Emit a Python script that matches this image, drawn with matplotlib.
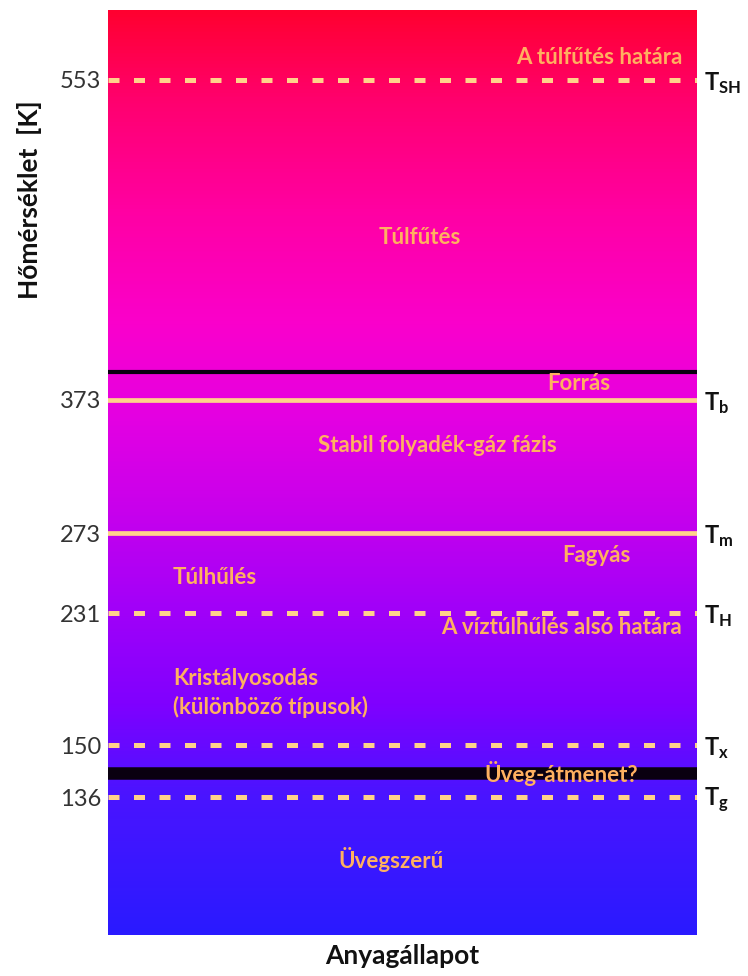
import numpy as np
import matplotlib
matplotlib.use("Agg")
import matplotlib.pyplot as plt
from matplotlib.colors import LinearSegmentedColormap

plt.rcParams['font.family'] = ['Lato', 'DejaVu Sans']
plt.rcParams['mathtext.fontset'] = 'custom'
plt.rcParams['mathtext.rm'] = 'Lato'
plt.rcParams['mathtext.bf'] = 'Lato:bold'

# ---- data ----
levels = [553, 373, 273, 231, 150, 136]            # temperatures [K]
level_pos = [855, 535, 402, 322, 190, 138]          # schematic (non-linear) axis positions
level_dashed = [True, False, False, True, True, True]
level_symbols = ['SH', 'b', 'm', 'H', 'x', 'g']
boundary_pos = [563, 162]                           # black boundary lines
boundary_width = [3.0, 9.0]

region_labels = ['A túlfűtés határa', 'Túlfűtés', 'Forrás', 'Stabil folyadék-gáz fázis',
                 'Fagyás', 'Túlhűlés', 'A víztúlhűlés alsó határa',
                 'Kristályosodás\n(különböző típusok)', 'Üveg-átmenet?', 'Üvegszerű']
region_x = [0.975, 0.53, 0.80, 0.56, 0.83, 0.11, 0.975, 0.11, 0.77, 0.48]
region_y = [877, 697, 552, 490, 380, 358, 307, 242, 162, 75]
region_ha = ['right', 'center', 'center', 'center', 'center', 'left', 'right', 'left', 'center', 'center']

ylab = 'Hőmérséklet  [K]'
xlab = 'Anyagállapot'

# ---- figure ----
fig = plt.figure(figsize=(7.48, 9.76), dpi=100)
ax = fig.add_axes([108/748, 1 - 935/976, (697-108)/748, (935-10)/976])
ax.set_xlim(0, 1)
ax.set_ylim(0, 925)

cmap = LinearSegmentedColormap.from_list('grad', [
    (0.0, '#2a1aff'), (0.15, '#4a14ff'), (0.25, '#8000ff'), (0.36, '#a400f8'),
    (0.46, '#c800ec'), (0.56, '#e400e2'), (0.66, '#fa00cc'), (0.78, '#ff00a4'),
    (0.90, '#ff0070'), (1.0, '#ff0030')])
grad = np.linspace(0, 1, 512).reshape(-1, 1)
ax.imshow(grad, extent=[0, 1, 0, 925], origin='lower', aspect='auto', cmap=cmap, zorder=0)

line_col = '#ffd28a'
txt_col = '#ffb060'
for pos, dashed, sym in zip(level_pos, level_dashed, level_symbols):
    if dashed:
        ax.axhline(pos, color=line_col, lw=3.6, linestyle=(0, (2.2, 2.9)), zorder=3)
    else:
        ax.axhline(pos, color=line_col, lw=3.4, zorder=3)
    ax.text(1.012, pos - 3, r'$\mathbf{T_{%s}}$' % sym, transform=ax.get_yaxis_transform(),
            ha='left', va='center', fontsize=17, color='#111111')

for pos, w in zip(boundary_pos, boundary_width):
    ax.axhline(pos, color='#0a0010', lw=w, zorder=2)

for lab, x, y, ha in zip(region_labels, region_x, region_y, region_ha):
    ax.text(x, y, lab, ha=ha, va='center', fontsize=16, fontweight='bold',
            color=txt_col, zorder=4, linespacing=1.4)

ax.set_yticks(level_pos)
ax.set_yticklabels([str(v) for v in levels], fontsize=17, color='#333333')
ax.tick_params(axis='y', length=0, pad=5)
ax.set_xticks([])
for s in ax.spines.values():
    s.set_visible(False)

fig.text(402/748, 1 - 956/976, xlab, ha='center', va='center',
         fontsize=19, fontweight='bold', color='#111111')
fig.text(30/748, 1 - 200/976, ylab, rotation=90, ha='center', va='center',
         fontsize=19, fontweight='bold', color='#111111')

fig.savefig('out.png', dpi=100)
